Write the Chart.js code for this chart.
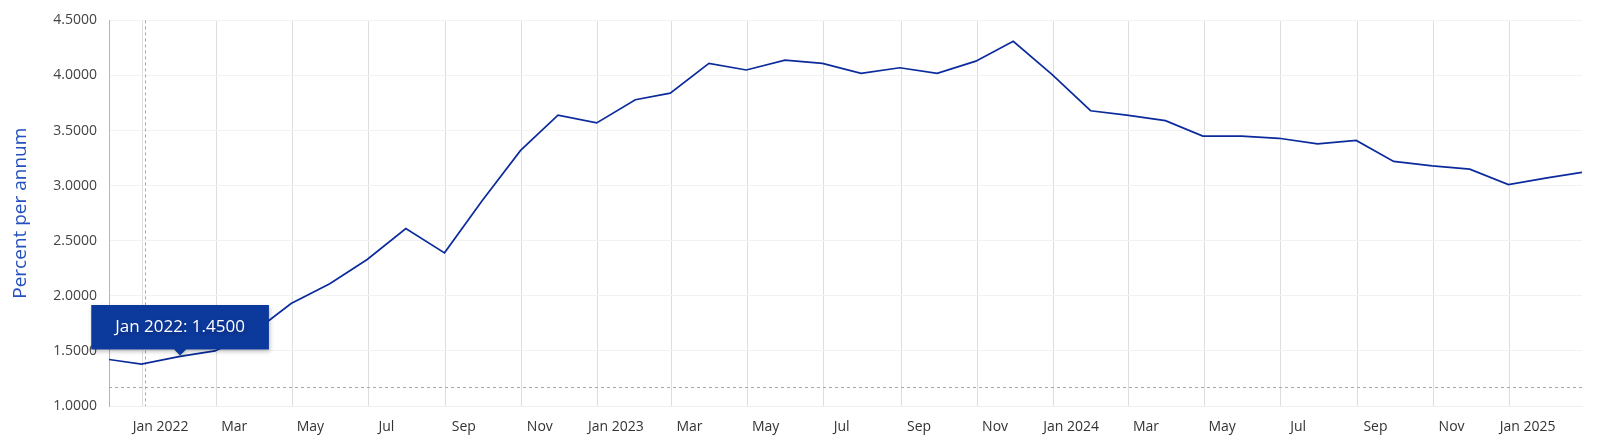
<!DOCTYPE html>
<html>
<head>
<meta charset="utf-8">
<script src="https://cdn.jsdelivr.net/npm/chart.js@4.4.1/dist/chart.umd.min.js"></script>
<style>
  html, body { margin: 0; padding: 0; background: #fff; }
  #wrap { width: 1600px; height: 448px; position: relative; }
</style>
</head>
<body>
<div id="wrap"><canvas id="grafico"></canvas></div>
<script>
// monthly observations (plotted at month end)
var periods = ['2021-11','2021-12','2022-01','2022-02','2022-03','2022-04','2022-05','2022-06',
	'2022-07','2022-08','2022-09','2022-10','2022-11','2022-12','2023-01','2023-02','2023-03',
	'2023-04','2023-05','2023-06','2023-07','2023-08','2023-09','2023-10','2023-11','2023-12',
	'2024-01','2024-02','2024-03','2024-04','2024-05','2024-06','2024-07','2024-08','2024-09',
	'2024-10','2024-11','2024-12','2025-01','2025-02'];
var rates = [1.43, 1.38, 1.45, 1.50, 1.67, 1.93, 2.11, 2.33,
	2.61, 2.39, 2.86, 3.32, 3.64, 3.57, 3.78, 3.84, 4.11,
	4.05, 4.14, 4.11, 4.02, 4.07, 4.02, 4.13, 4.31, 4.01,
	3.68, 3.64, 3.59, 3.45, 3.45, 3.43, 3.38, 3.41, 3.22,
	3.18, 3.15, 3.01, 3.07, 3.12];

var tickMonths = ['2022-01','2022-03','2022-05','2022-07','2022-09','2022-11','2023-01','2023-03',
	'2023-05','2023-07','2023-09','2023-11','2024-01','2024-03','2024-05','2024-07','2024-09',
	'2024-11','2025-01'];
var tickLabels = ['Jan 2022','Mar','May','Jul','Sep','Nov','Jan 2023','Mar',
	'May','Jul','Sep','Nov','Jan 2024','Mar','May','Jul','Sep',
	'Nov','Jan 2025'];

var yTicks = [1.0, 1.5, 2.0, 2.5, 3.0, 3.5, 4.0, 4.5];
var mesesCortos = ['Jan','Feb','Mar','Apr','May','Jun','Jul','Aug','Sep','Oct','Nov','Dec'];

// crosshair position: [day, value]
var cruce = [2.2, 1.172];
var puntoActivo = 2;

var origen = Date.UTC(2022, 0, 1);
function diaFinMes(p)
{
	var partes = p.split('-');
	return (Date.UTC(+partes[0], +partes[1], 0) - origen) / 86400000;
}
function diaInicioMes(p)
{
	var partes = p.split('-');
	return (Date.UTC(+partes[0], +partes[1] - 1, 1) - origen) / 86400000;
}
function nombrePeriodo(p)
{
	var partes = p.split('-');
	return mesesCortos[+partes[1] - 1] + ' ' + partes[0];
}

var puntos = [];
for (var i = 0; i < periods.length; i++)
	puntos.push({x: diaFinMes(periods[i]), y: rates[i]});

var fuente = "'Open Sans', 'Noto Sans', sans-serif";

var cruceta = {
	id: 'cruceta',
	beforeDatasetsDraw: function(chart) {
		var ctx = chart.ctx, a = chart.chartArea;
		var px = chart.scales.x.getPixelForValue(cruce[0]);
		var py = chart.scales.y.getPixelForValue(cruce[1]);
		ctx.save();
		ctx.strokeStyle = '#a8a8a8';
		ctx.lineWidth = 1;
		ctx.setLineDash([3, 3]);
		ctx.beginPath();
		ctx.moveTo(Math.round(px) + 0.5, a.top);
		ctx.lineTo(Math.round(px) + 0.5, a.bottom);
		ctx.moveTo(a.left, Math.round(py) + 0.5);
		ctx.lineTo(a.right, Math.round(py) + 0.5);
		ctx.stroke();
		ctx.restore();
	},
	beforeTooltipDraw: function(chart) {
		var ctx = chart.ctx;
		ctx.save();
		ctx.shadowColor = 'rgba(0,0,0,0.25)';
		ctx.shadowBlur = 4;
		ctx.shadowOffsetX = 1;
		ctx.shadowOffsetY = 2;
	},
	afterTooltipDraw: function(chart) {
		chart.ctx.restore();
	}
};

var myChart = new Chart(document.getElementById('grafico'), {
	type: 'line',
	data: {
		datasets: [{
			label: 'Percent per annum',
			data: puntos,
			borderColor: '#0b2b9c',
			borderWidth: 1.7,
			pointRadius: 0,
			pointHoverRadius: 0,
			tension: 0,
			fill: false
		}]
	},
	options: {
		responsive: true,
		maintainAspectRatio: false,
		animation: false,
		events: [],
		layout: { padding: { top: 14, right: 18, bottom: 0, left: 0 } },
		plugins: {
			legend: { display: false },
			tooltip: {
				enabled: true,
				backgroundColor: '#0c399c',
				bodyColor: '#ffffff',
				bodyFont: { family: fuente, size: 17 },
				padding: { top: 12, bottom: 12, left: 24, right: 24 },
				cornerRadius: 0,
				caretSize: 6,
				caretPadding: 1,
				displayColors: false,
				xAlign: 'center',
				yAlign: 'bottom',
				callbacks: {
					title: function() { return ''; },
					label: function(item) {
						return nombrePeriodo(periods[item.dataIndex]) + ': ' + item.parsed.y.toFixed(4);
					}
				}
			}
		},
		scales: {
			x: {
				type: 'linear',
				min: -27,
				max: diaFinMes(periods[periods.length - 1]),
				afterBuildTicks: function(scale) {
					scale.ticks = tickMonths.map(function(m) { return {value: diaInicioMes(m)}; });
				},
				afterFit: function(scale) { scale.height = 42; },
				grid: { color: '#dedede', lineWidth: 1, drawTicks: false },
				border: { display: true, color: '#f0f0f0' },
				ticks: {
					autoSkip: false,
					maxRotation: 0,
					padding: 13,
					labelOffset: 18,
					color: '#333333',
					font: { family: fuente, size: 14 },
					callback: function(value, index) { return tickLabels[index]; }
				}
			},
			y: {
				min: yTicks[0],
				max: yTicks[yTicks.length - 1],
				afterBuildTicks: function(scale) {
					scale.ticks = yTicks.map(function(v) { return {value: v}; });
				},
				afterFit: function(scale) { scale.width = 109; },
				grid: { color: '#f2f2f2', lineWidth: 1, drawTicks: false },
				border: { display: true, color: '#b5b5b5' },
				ticks: {
					padding: 12,
					color: '#444444',
					font: { family: fuente, size: 14 },
					callback: function(value) { return value.toFixed(4); }
				},
				title: {
					display: true,
					text: 'Percent per annum',
					color: '#2451bd',
					font: { family: fuente, size: 19 },
					padding: { top: 9, bottom: 0 }
				}
			}
		}
	},
	plugins: [cruceta]
});

var meta = myChart.getDatasetMeta(0);
var el = meta.data[puntoActivo];
myChart.tooltip.setActiveElements([{datasetIndex: 0, index: puntoActivo}], {x: el.x, y: el.y});
myChart.update();
</script>
</body>
</html>
